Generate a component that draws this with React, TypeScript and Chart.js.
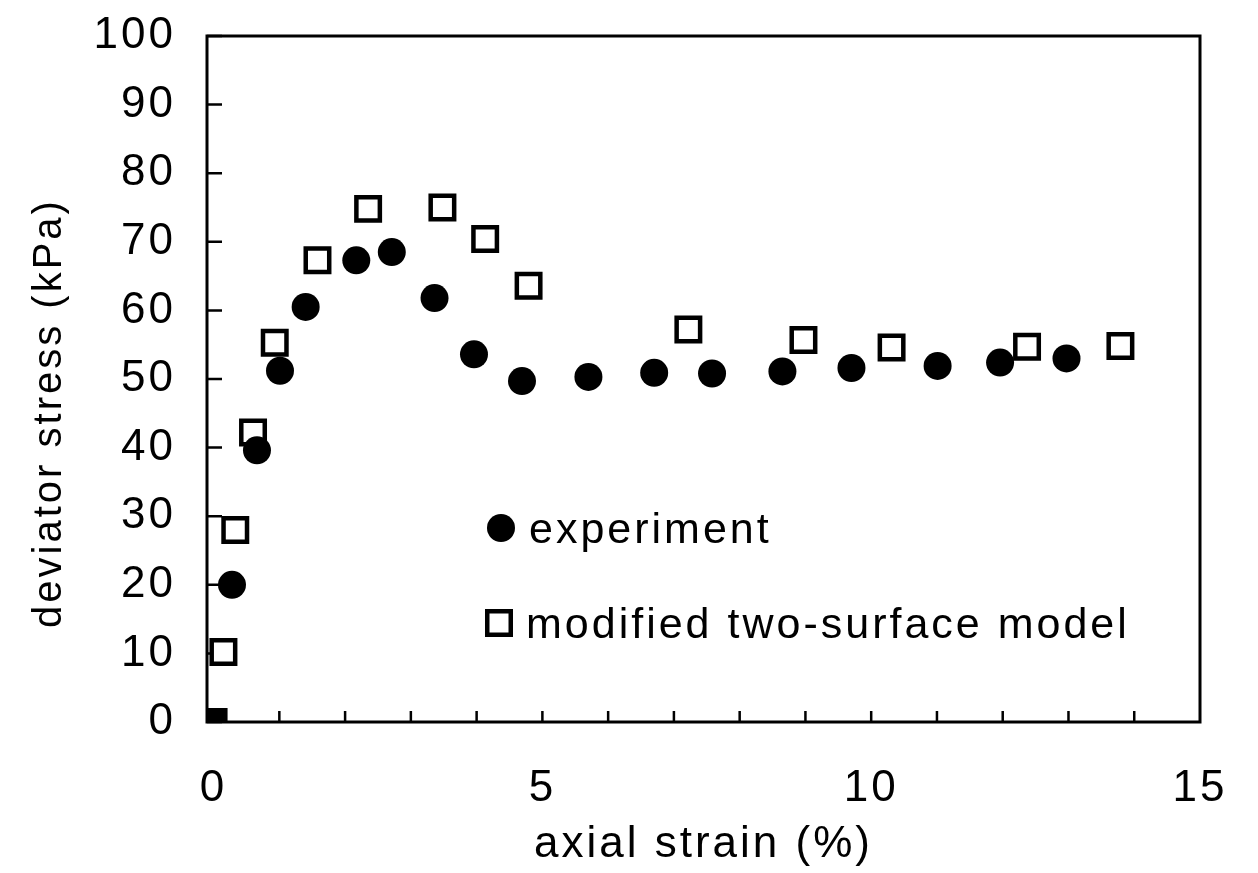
import React, { useEffect, useRef } from "react";
import { Chart, registerables } from "chart.js";

Chart.register(...registerables);

// ---- data ----
const expStrain = [0.28, 0.66, 1.01, 1.4, 2.17, 2.71, 3.36, 3.96, 4.69, 5.7, 6.7, 7.58, 8.65, 9.7, 11.01, 11.96, 12.97];
const expStress = [20.0, 39.6, 51.2, 60.5, 67.3, 68.5, 61.8, 53.6, 49.7, 50.3, 50.9, 50.8, 51.1, 51.6, 51.9, 52.4, 53.0];

const modelStrain = [0, 0.15, 0.33, 0.6, 0.93, 1.58, 2.35, 3.48, 4.13, 4.79, 7.22, 8.97, 10.31, 12.37, 13.79];
const modelStress = [0, 10.2, 28.0, 42.2, 55.3, 67.3, 74.8, 75.0, 70.4, 63.6, 57.2, 55.7, 54.6, 54.7, 54.8];

const xMajorTicks = [0, 5, 10, 15];
const xMinorTicks = [1, 2, 3, 4, 5, 6, 7, 8, 9, 10, 11, 12, 13, 14];
const yTicks = [0, 10, 20, 30, 40, 50, 60, 70, 80, 90, 100];

const seriesLabels = ["experiment", "modified two-surface model"];
const xTitle = "axial strain (%)";
const yTitle = "deviator stress (kPa)";

const FONT = '"Liberation Sans", Arial, Helvetica, sans-serif';

export default function App() {
  const ref = useRef<HTMLCanvasElement>(null);

  useEffect(() => {
    const canvas = ref.current;
    if (!canvas) return;

    const spacingPlugin = {
      id: "spacing",
      beforeDraw(chart: any) {
        chart.ctx.letterSpacing = "3px";
      },
    };

    const framePlugin = {
      id: "frame",
      beforeDatasetsDraw(chart: any) {
        const { ctx, chartArea } = chart;
        const xs = chart.scales.x;
        const ys = chart.scales.y;
        ctx.save();
        ctx.strokeStyle = "#000";
        ctx.lineWidth = 3;
        ctx.strokeRect(chartArea.left, chartArea.top, chartArea.right - chartArea.left, chartArea.bottom - chartArea.top);
        ctx.lineWidth = 2.5;
        ctx.beginPath();
        for (const v of yTicks) {
          const py = ys.getPixelForValue(v);
          ctx.moveTo(chartArea.left, py);
          ctx.lineTo(chartArea.left + 15, py);
        }
        for (const v of xMinorTicks) {
          const px = xs.getPixelForValue(v);
          ctx.moveTo(px, chartArea.bottom);
          ctx.lineTo(px, chartArea.bottom - 11);
        }
        ctx.stroke();
        ctx.restore();
      },
      afterDraw(chart: any) {
        const { ctx } = chart;
        ctx.save();
        ctx.letterSpacing = "3px";
        ctx.fillStyle = "#000";
        // y axis title
        ctx.translate(50, 413);
        ctx.rotate(-Math.PI / 2);
        ctx.font = `40px ${FONT}`;
        ctx.textAlign = "center";
        ctx.textBaseline = "middle";
        ctx.fillText(yTitle, 0, 0);
        ctx.restore();

        // legend inside the plot
        ctx.save();
        ctx.letterSpacing = "3px";
        ctx.fillStyle = "#000";
        ctx.strokeStyle = "#000";
        ctx.beginPath();
        ctx.arc(501, 528, 14, 0, Math.PI * 2);
        ctx.fill();
        ctx.lineWidth = 4.5;
        ctx.strokeRect(499 - 11.75, 623 - 11.75, 23.5, 23.5);
        ctx.font = `43px ${FONT}`;
        ctx.textAlign = "left";
        ctx.textBaseline = "alphabetic";
        ctx.fillText(seriesLabels[0], 529, 543);
        ctx.fillText(seriesLabels[1], 526, 638);
        ctx.restore();
      },
    };

    const chart = new Chart(canvas, {
      type: "scatter",
      data: {
        datasets: [
          {
            label: seriesLabels[0],
            data: expStrain.map((x, i) => ({ x, y: expStress[i] })),
            pointStyle: "circle",
            pointRadius: 14,
            pointBorderWidth: 0,
            pointBackgroundColor: "#000",
            pointBorderColor: "#000",
            showLine: false,
          },
          {
            label: seriesLabels[1],
            data: modelStrain.map((x, i) => ({ x, y: modelStress[i] })),
            pointStyle: "rect",
            pointRadius: 16.6,
            pointBorderWidth: 4.5,
            pointBackgroundColor: modelStrain.map((_, i) => (i === 0 ? "#000" : "#fff")),
            pointBorderColor: "#000",
            showLine: false,
          },
        ],
      },
      options: {
        responsive: false,
        animation: false,
        events: [],
        layout: { padding: { top: 36, right: 58, left: 0, bottom: 0 } },
        plugins: {
          legend: { display: false },
          tooltip: { enabled: false },
          title: { display: false },
        },
        scales: {
          x: {
            type: "linear",
            min: -0.1,
            max: 15,
            grid: { display: false, drawTicks: false },
            border: { display: false },
            afterBuildTicks: (scale: any) => {
              scale.ticks = xMajorTicks.map((v) => ({ value: v }));
            },
            afterFit: (scale: any) => {
              scale.height = 151;
              scale.paddingLeft = 0;
              scale.paddingRight = 0;
              scale.paddingTop = 0;
              scale.paddingBottom = 0;
            },
            ticks: {
              color: "#000",
              padding: 40,
              font: { family: FONT, size: 44 },
              maxRotation: 0,
            },
            title: {
              display: true,
              text: xTitle,
              color: "#000",
              font: { family: FONT, size: 44 },
              padding: { top: 0, bottom: 2 },
            },
          },
          y: {
            type: "linear",
            min: 0,
            max: 100,
            grid: { display: false, drawTicks: false },
            border: { display: false },
            afterBuildTicks: (scale: any) => {
              scale.ticks = yTicks.map((v) => ({ value: v }));
            },
            afterFit: (scale: any) => {
              scale.width = 207;
              scale.paddingLeft = 0;
              scale.paddingRight = 0;
              scale.paddingTop = 0;
              scale.paddingBottom = 0;
            },
            ticks: {
              color: "#000",
              padding: 31,
              font: { family: FONT, size: 44 },
            },
          },
        },
      },
      plugins: [spacingPlugin, framePlugin],
    } as any);

    return () => chart.destroy();
  }, []);

  return (
    <div style={{ position: "absolute", left: 0, top: 0, width: 1258, height: 873, background: "#fff" }}>
      <canvas ref={ref} width={1258} height={873} style={{ display: "block" }} />
    </div>
  );
}
